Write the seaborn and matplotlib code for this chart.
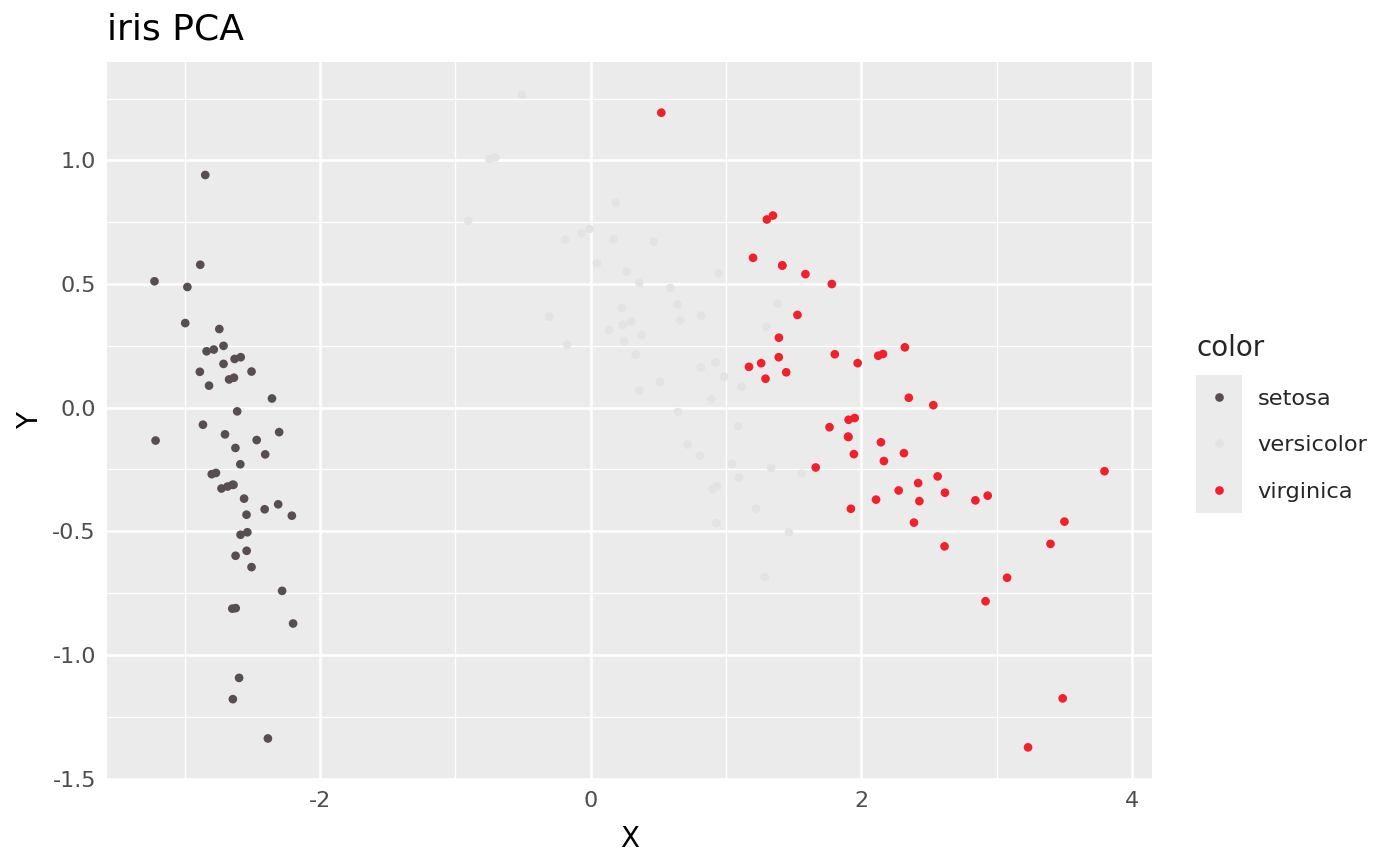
import numpy as np
import pandas as pd
import matplotlib
matplotlib.use("Agg")
import matplotlib.pyplot as plt
import seaborn as sns
from matplotlib.patches import Rectangle
from matplotlib.ticker import MultipleLocator, FuncFormatter

# first two principal components of iris
setosa_x = [-2.684, -2.714, -2.889, -2.745, -2.729, -2.281, -2.821, -2.626, -2.886, -2.673,
            -2.507, -2.613, -2.786, -3.224, -2.645, -2.386, -2.624, -2.648, -2.200, -2.588,
            -2.310, -2.544, -3.216, -2.303, -2.356, -2.507, -2.469, -2.562, -2.640, -2.632,
            -2.587, -2.410, -2.649, -2.599, -2.637, -2.866, -2.625, -2.801, -2.981, -2.590,
            -2.770, -2.849, -2.997, -2.406, -2.209, -2.714, -2.538, -2.839, -2.543, -2.703]
setosa_y = [-0.319, 0.177, 0.145, 0.318, -0.327, -0.741, 0.089, -0.163, 0.578, 0.114,
            -0.645, -0.015, 0.235, 0.511, -1.179, -1.338, -0.811, -0.312, -0.873, -0.514,
            -0.391, -0.433, -0.133, -0.099, 0.037, 0.146, -0.131, -0.368, -0.312, 0.197,
            0.204, -0.411, -0.813, -1.093, 0.121, -0.069, -0.599, -0.269, 0.488, -0.229,
            -0.264, 0.941, 0.342, -0.189, -0.437, 0.250, -0.504, 0.228, -0.579, -0.108]

versicolor_x = [1.285, 0.932, 1.464, 0.183, 1.088, 0.642, 1.095, -0.749, 1.044, -0.009,
                -0.508, 0.512, 0.265, 0.985, -0.174, 0.928, 0.660, 0.236, 0.945, 0.045,
                1.116, 0.358, 1.298, 0.922, 0.715, 0.900, 1.332, 1.558, 0.813, -0.306,
                -0.068, -0.190, 0.136, 1.380, 0.588, 0.807, 1.221, 0.815, 0.246, 0.166,
                0.465, 0.891, 0.231, -0.705, 0.357, 0.332, 0.376, 0.643, -0.906, 0.299]
versicolor_y = [-0.685, -0.318, -0.504, 0.828, -0.075, 0.418, -0.283, 1.005, -0.228, 0.723,
                1.266, 0.104, 0.550, 0.125, 0.255, -0.467, 0.353, 0.334, 0.543, 0.584,
                0.085, 0.069, 0.328, 0.183, -0.149, -0.329, -0.244, -0.267, 0.163, 0.368,
                0.705, 0.680, 0.314, 0.421, 0.484, -0.194, -0.408, 0.372, 0.269, 0.682,
                0.671, 0.034, 0.404, 1.012, 0.505, 0.213, 0.293, -0.018, 0.756, 0.349]

virginica_x = [2.531, 1.415, 2.617, 1.972, 2.350, 3.397, 0.521, 2.933, 2.321, 2.917,
               1.662, 1.803, 2.166, 1.346, 1.586, 1.904, 1.950, 3.487, 3.796, 1.301,
               2.428, 1.199, 3.500, 1.389, 2.275, 2.614, 1.259, 1.291, 2.124, 2.388,
               2.842, 3.231, 2.159, 1.444, 1.781, 3.076, 2.144, 1.905, 1.169, 2.108,
               2.314, 1.922, 1.415, 2.563, 2.419, 1.944, 1.527, 1.764, 1.901, 1.390]
virginica_y = [0.010, 0.575, -0.344, 0.180, 0.040, -0.551, 1.193, -0.356, 0.244, -0.783,
               -0.242, 0.216, -0.216, 0.777, 0.540, -0.119, -0.042, -1.176, -0.257, 0.761,
               -0.378, 0.606, -0.461, 0.204, -0.335, -0.561, 0.180, 0.117, 0.210, -0.465,
               -0.375, -1.374, 0.217, 0.143, 0.500, -0.688, -0.140, -0.049, 0.165, -0.372,
               -0.184, -0.409, 0.575, -0.278, -0.305, -0.188, 0.375, -0.079, -0.117, 0.283]

species = ["setosa", "versicolor", "virginica"]
palette = {"setosa": "#564E52", "versicolor": "#E3E3E3", "virginica": "#F2202B"}

df = pd.DataFrame({
    "X": setosa_x + versicolor_x + virginica_x,
    "Y": setosa_y + versicolor_y + virginica_y,
    "color": ["setosa"] * len(setosa_x) + ["versicolor"] * len(versicolor_x)
             + ["virginica"] * len(virginica_x),
})

sns.set_style("darkgrid", {"axes.facecolor": "#EBEBEB", "grid.color": "white"})
plt.rcParams["font.family"] = ["DejaVu Sans"]

fig = plt.figure(figsize=(14, 8.66), dpi=100)
ax = fig.add_axes([107 / 1400, 1 - 780 / 866, (1152 - 107) / 1400, (780 - 62) / 866])

sns.scatterplot(data=df, x="X", y="Y", hue="color", hue_order=species, palette=palette,
                s=39, linewidth=0, ax=ax)

ax.set_xlim(-3.575, 4.147)
ax.set_ylim(-1.506, 1.398)
ax.xaxis.set_major_locator(MultipleLocator(2))
ax.xaxis.set_minor_locator(MultipleLocator(1))
ax.yaxis.set_major_locator(MultipleLocator(0.5))
ax.yaxis.set_minor_locator(MultipleLocator(0.25))
ax.xaxis.set_major_formatter(FuncFormatter(lambda v, p: "0" if abs(v) < 1e-9 else f"{v:.0f}"))
ax.yaxis.set_major_formatter(FuncFormatter(lambda v, p: "0.0" if abs(v) < 1e-9 else f"{v:.1f}"))

ax.grid(which="major", color="white", linewidth=1.9)
ax.grid(which="minor", color="white", linewidth=0.95)
ax.set_axisbelow(True)
for sp in ax.spines.values():
    sp.set_visible(False)
ax.tick_params(which="minor", length=0)
ax.tick_params(which="major", length=5, width=1.9, color="#333333",
               labelsize=16, labelcolor="#4D4D4D", pad=3)

ax.set_xlabel("X", fontsize=20, color="black", labelpad=10)
ax.set_ylabel("Y", fontsize=20, color="black", labelpad=6)
ax.set_title("iris PCA", loc="left", fontsize=26, color="black", pad=16)

# legend placed to the right, ggplot style
old = ax.get_legend()
handles = old.legend_handles
labels = [t.get_text() for t in old.get_texts()]
old.remove()
ax.legend(handles, labels, title="color", loc="upper left",
          bbox_to_anchor=(1196 / 1400, 1 - 334 / 866), bbox_transform=fig.transFigure,
          frameon=False, fontsize=16.2, title_fontsize=20, handlelength=2.07,
          handletextpad=0.66, borderpad=0, borderaxespad=0, labelspacing=1.18,
          alignment="left")

fig.add_artist(Rectangle((1196 / 1400, 1 - 513 / 866), 46 / 1400, 138 / 866,
                         transform=fig.transFigure, facecolor="#EBEBEB",
                         edgecolor="none", zorder=-1))

fig.savefig("out.png", dpi=100)
